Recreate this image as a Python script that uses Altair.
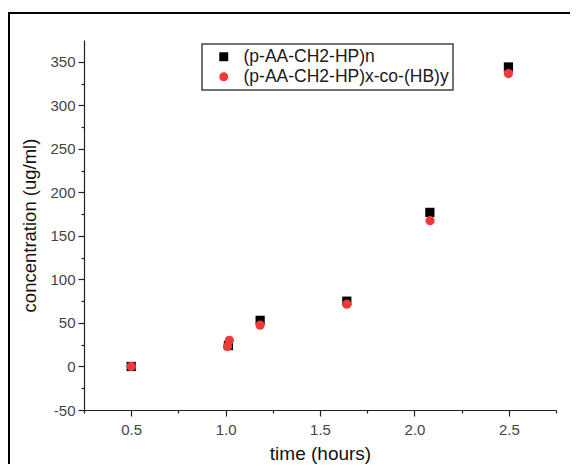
import altair as alt
import pandas as pd

series_names = ["(p-AA-CH2-HP)n", "(p-AA-CH2-HP)x-co-(HB)y"]

time_n = [0.5, 1.015, 1.183, 1.642, 2.082, 2.498]
conc_n = [0, 24, 53, 75, 177, 344]

time_co = [0.5, 1.01, 1.02, 1.183, 1.642, 2.083, 2.498]
conc_co = [0, 23, 30, 47.5, 71.5, 167.5, 336.5]

y_ticks = list(range(-50, 351, 25))
x_ticks = [0.25 + 0.25 * i for i in range(11)]

df = pd.DataFrame(
    {"time": time_n + time_co,
     "conc": conc_n + conc_co,
     "series": [series_names[0]] * len(time_n) + [series_names[1]] * len(time_co)}
)

FONT = "Liberation Sans"

points = alt.Chart(df).mark_point(filled=True, opacity=1, size=85).encode(
    x=alt.X("time:Q",
            scale=alt.Scale(domain=[0.25, 2.75], nice=False, zero=False),
            axis=alt.Axis(title="time (hours)", values=x_ticks,
                          labelExpr="(datum.value*4) % 2 === 0 ? format(datum.value, '.1f') : ''",
                          tickSize={"condition": {"test": "(datum.value*4) % 2 === 0", "value": 6}, "value": 3},
                          grid=False, labelFontSize=15, titleFontSize=19, labelPadding=6,
                          titlePadding=7)),
    y=alt.Y("conc:Q",
            scale=alt.Scale(domain=[-50, 375], nice=False, zero=False),
            axis=alt.Axis(title="concentration (ug/ml)", values=y_ticks,
                          labelExpr="datum.value % 50 === 0 ? ('' + datum.value) : ''",
                          tickSize={"condition": {"test": "datum.value % 50 === 0", "value": 6}, "value": 3},
                          grid=False, labelFontSize=15, titleFontSize=18.5, labelPadding=3,
                          titlePadding=10)),
    color=alt.Color("series:N",
                    scale=alt.Scale(domain=series_names, range=["#000000", "#f03a3a"]),
                    legend=alt.Legend(title=None, orient="none", legendX=118, legendY=4,
                                      labelFontSize=17.5, labelColor="#1a1a1a",
                                      strokeColor="#444444", labelLimit=400,
                                      padding=4, symbolOffset=9, labelOffset=11,
                                      rowPadding=1, symbolSize=80, fillColor="white")),
    shape=alt.Shape("series:N",
                    scale=alt.Scale(domain=series_names, range=["square", "circle"]),
                    legend=None),
)

border = alt.Chart(pd.DataFrame({"a": [0]})).mark_rect(
    fill=None, stroke="black", strokeWidth=2, clip=False
).encode(
    x=alt.value(-75), x2=alt.value(600), y=alt.value(-27), y2=alt.value(480)
)

chart = alt.layer(border, points).properties(
    width=472, height=370,
    autosize=alt.AutoSizeParams(type="none"),
    padding={"left": 76, "top": 32, "right": 14, "bottom": 54},
    background="white",
).configure_view(stroke=None).configure_axis(
    domainColor="#222222", tickColor="#222222", domainWidth=1.2, tickWidth=1.2,
    labelColor="#444444", titleColor="#111111", labelFont=FONT, titleFont=FONT,
    titleFontWeight="normal",
).configure_legend(labelFont=FONT, strokeWidth=1.5)

chart.save("out.html", embed_options={"renderer": "svg", "actions": False})
